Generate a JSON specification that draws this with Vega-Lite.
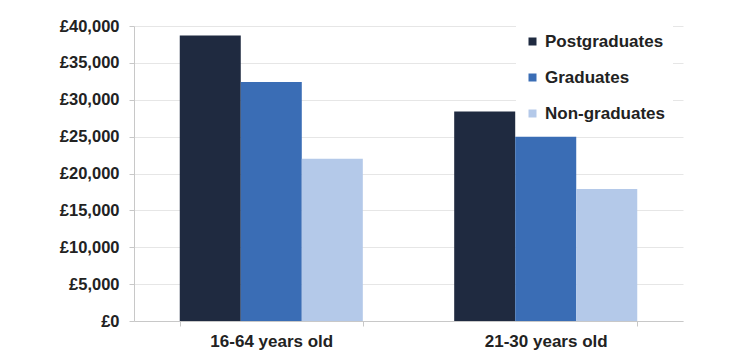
{
  "$schema": "https://vega.github.io/schema/vega-lite/v6.json",
  "width": 549,
  "height": 295,
  "autosize": {"type": "none"},
  "padding": {"left": 134, "top": 26, "right": 70, "bottom": 40},
  "background": "white",
  "data": {
    "values": [
      {"age": "16-64 years old", "group": "Postgraduates", "salary": 38700},
      {"age": "16-64 years old", "group": "Graduates", "salary": 32400},
      {"age": "16-64 years old", "group": "Non-graduates", "salary": 22000},
      {"age": "21-30 years old", "group": "Postgraduates", "salary": 28400},
      {"age": "21-30 years old", "group": "Graduates", "salary": 25000},
      {"age": "21-30 years old", "group": "Non-graduates", "salary": 17900}
    ]
  },
  "mark": {"type": "bar"},
  "encoding": {
    "x": {
      "field": "age", "type": "nominal", "sort": null,
      "scale": {"paddingInner": 0.333, "paddingOuter": 0.1667},
      "axis": {
        "title": null, "labelAngle": 0, "labelFont": "Liberation Sans", "labelFontSize": 17,
        "labelFontWeight": "bold", "labelColor": "#222222", "labelPadding": 7,
        "domainColor": "#c8c8c8", "tickColor": "#c8c8c8", "tickBand": "extent", "tickSize": 5, "grid": false
      }
    },
    "xOffset": {"field": "group", "sort": ["Postgraduates", "Graduates", "Non-graduates"], "scale": {"paddingInner": 0, "paddingOuter": 0}},
    "y": {
      "field": "salary", "type": "quantitative",
      "scale": {"domain": [0, 40000]},
      "axis": {
        "title": null, "values": [0, 5000, 10000, 15000, 20000, 25000, 30000, 35000, 40000],
        "labelExpr": "'£' + format(datum.value, ',')",
        "labelFont": "Liberation Sans", "labelFontSize": 16.5, "labelFontWeight": "bold", "labelColor": "#222222",
        "labelPadding": 10, "tickSize": 5, "tickColor": "#c8c8c8", "domainColor": "#c8c8c8",
        "gridColor": "#e6e6e6", "gridWidth": 1
      }
    },
    "color": {
      "field": "group", "type": "nominal",
      "sort": ["Postgraduates", "Graduates", "Non-graduates"],
      "scale": {"domain": ["Postgraduates", "Graduates", "Non-graduates"], "range": ["#1f2a40", "#3a6db5", "#b4c9e9"]},
      "legend": {
        "title": null, "orient": "none", "legendX": 382, "legendY": -1,
        "symbolType": "square", "symbolSize": 64, "symbolStrokeWidth": 0,
        "labelFont": "Liberation Sans", "labelFontSize": 17, "labelFontWeight": "bold", "labelColor": "#222222",
        "labelOffset": 4, "rowPadding": 18, "fillColor": "white", "padding": 8
      }
    }
  },
  "config": {"view": {"stroke": null}}
}
